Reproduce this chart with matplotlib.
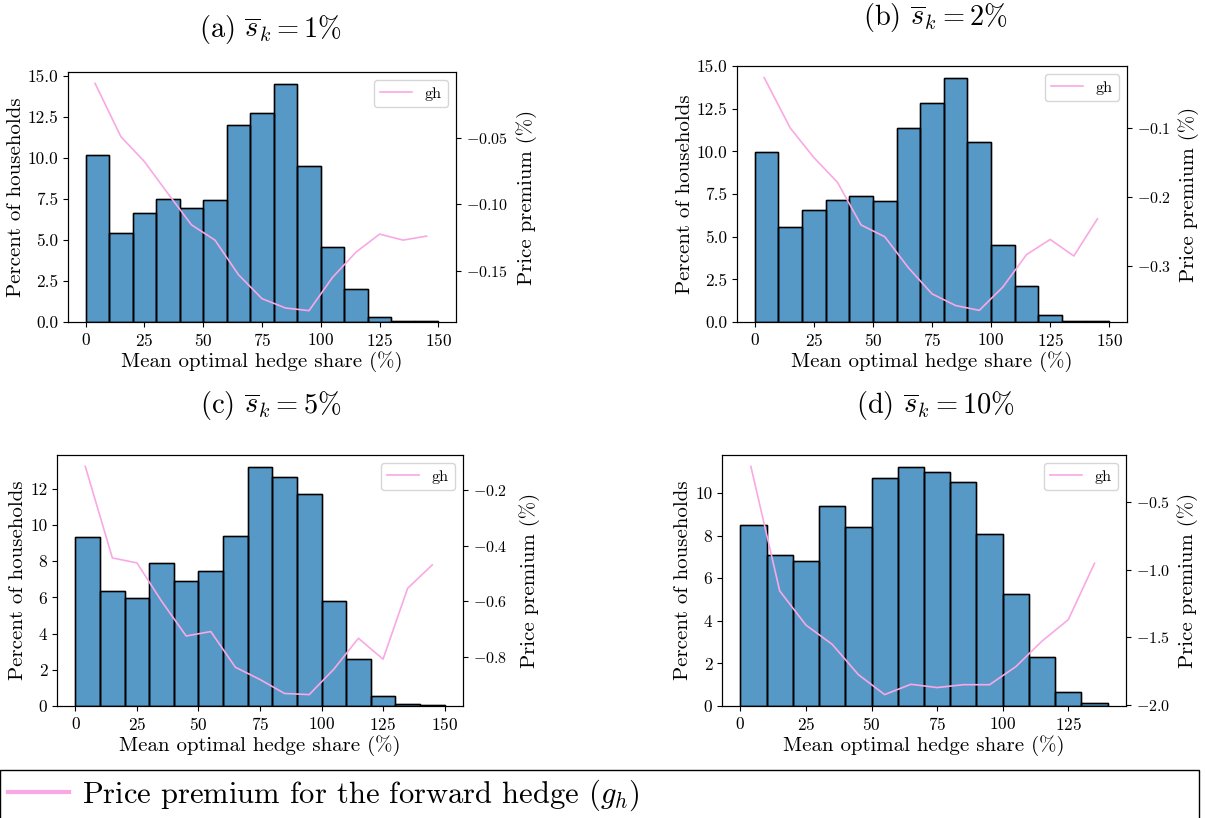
import numpy as np
import matplotlib
matplotlib.use("Agg")
import matplotlib.pyplot as plt

plt.rcParams['font.family'] = 'serif'
plt.rcParams['font.serif'] = ['cmr10', 'DejaVu Serif']
plt.rcParams['mathtext.fontset'] = 'cm'
plt.rcParams['axes.formatter.use_mathtext'] = True

# histogram bins (width 10) and percent of households
edges_abc = np.arange(0, 151, 10)
edges_d = np.arange(0, 141, 10)

hist_a = [10.2, 5.4, 6.65, 7.5, 6.95, 7.45, 12.0, 12.7, 14.5, 9.5, 4.55, 2.0, 0.3, 0.05, 0.05]
hist_b = [9.96, 5.59, 6.56, 7.13, 7.40, 7.09, 11.36, 12.81, 14.29, 10.55, 4.53, 2.11, 0.41, 0.05, 0.05]
hist_c = [9.34, 6.33, 5.96, 7.87, 6.93, 7.46, 9.41, 13.2, 12.64, 11.68, 5.78, 2.61, 0.55, 0.12, 0.05]
hist_d = [8.49, 7.09, 6.82, 9.37, 8.39, 10.71, 11.22, 10.99, 10.53, 8.07, 5.27, 2.30, 0.68, 0.13]

# price premium line (mean within bin)
gx_abc = [4, 15, 25, 35, 45, 55, 65, 75, 85, 95, 105, 115, 125, 135, 145]
gx_d = [4, 15, 25, 35, 45, 55, 65, 75, 85, 95, 105, 115, 125, 135]

gh_a = [-0.0092, -0.0493, -0.068, -0.092, -0.1155, -0.127, -0.153, -0.171, -0.178, -0.180,
        -0.155, -0.136, -0.1225, -0.127, -0.124]
gh_b = [-0.027, -0.100, -0.143, -0.179, -0.241, -0.258, -0.303, -0.341, -0.358, -0.365,
        -0.331, -0.284, -0.262, -0.286, -0.232]
gh_c = [-0.116, -0.444, -0.462, -0.599, -0.724, -0.708, -0.836, -0.880, -0.930, -0.934,
        -0.843, -0.732, -0.807, -0.553, -0.469]
gh_d = [-0.238, -1.157, -1.409, -1.551, -1.775, -1.922, -1.846, -1.870, -1.849, -1.849,
        -1.716, -1.527, -1.369, -0.953]

titles = [r"(a) $\overline{s}_k = 1\%$", r"(b) $\overline{s}_k = 2\%$",
          r"(c) $\overline{s}_k = 5\%$", r"(d) $\overline{s}_k = 10\%$"]

left_ticks = [[0, 2.5, 5, 7.5, 10, 12.5, 15], [0, 2.5, 5, 7.5, 10, 12.5, 15],
              [0, 2, 4, 6, 8, 10, 12], [0, 2, 4, 6, 8, 10]]
left_fmt = ['%.1f', '%.1f', '%d', '%d']
right_ticks = [[-0.05, -0.10, -0.15], [-0.1, -0.2, -0.3],
               [-0.2, -0.4, -0.6, -0.8], [-0.5, -1.0, -1.5, -2.0]]
right_fmt = ['%.2f', '%.1f', '%.1f', '%.1f']

W, H = 1205, 818
fig = plt.figure(figsize=(W / 100, H / 100), dpi=100)

# pixel boxes: left, top, right, bottom
boxes = [(68, 72, 456, 322), (737, 66, 1127, 322),
         (57, 455, 463, 706), (722, 455, 1126, 706)]
title_pos = [(271, 30), (935, 18), (271, 405), (935, 405)]
right_label_x = [516, 1178, 519, 1177]

panels = [(edges_abc, hist_a, gx_abc, gh_a),
          (edges_abc, hist_b, gx_abc, gh_b),
          (edges_abc, hist_c, gx_abc, gh_c),
          (edges_d, hist_d, gx_d, gh_d)]

bar_color = '#1f77b4'
line_color = '#f9a8e4'

for i, (edges, h, gx, gh) in enumerate(panels):
    l, t, r, b = boxes[i]
    ax = fig.add_axes([l / W, 1 - b / H, (r - l) / W, (b - t) / H])
    ax.bar(edges[:-1], h, width=10, align='edge', color=bar_color, alpha=0.75,
           edgecolor='black', linewidth=1)
    ax.bar(edges[:-1], h, width=10, align='edge', fill=False,
           edgecolor='black', linewidth=1)
    ax.set_xticks([0, 25, 50, 75, 100, 125, 150] if i < 3 else [0, 25, 50, 75, 100, 125])
    ax.set_yticks(left_ticks[i])
    ax.set_yticklabels([left_fmt[i] % v for v in left_ticks[i]])
    ax.set_xlabel("Mean optimal hedge share (%)", fontsize=15, labelpad=2)
    ax.set_ylabel("Percent of households", fontsize=15, labelpad=2)
    ax.tick_params(labelsize=12.5)

    ax2 = ax.twinx()
    ax2.plot(gx, gh, color=line_color, linewidth=1.2, label='gh')
    ax2.set_yticks(right_ticks[i])
    ax2.set_yticklabels(['$' + right_fmt[i] % v + '$' for v in right_ticks[i]])
    ax2.set_ylabel("Price premium (%)", fontsize=15)
    ax2.yaxis.set_label_coords((right_label_x[i] - l) / (r - l), 0.5)
    ax2.tick_params(labelsize=11.5)
    ax2.legend(loc='upper right', fontsize=11.5)

    fig.text(title_pos[i][0] / W, 1 - title_pos[i][1] / H, titles[i],
             ha='center', va='center', fontsize=20.5)

handle = plt.Line2D([], [], color=line_color, linewidth=3)
fig.legend([handle], [r"Price premium for the forward hedge ($g_h$)"],
           loc='upper left', bbox_to_anchor=(0.0, 0.0, 0.995, 1 - 770 / H), mode='expand',
           fontsize=22, fancybox=False, edgecolor='black', framealpha=1,
           handlelength=2.0, handletextpad=0.45, borderaxespad=0, borderpad=0.25)

fig.savefig("out.png", dpi=100)
